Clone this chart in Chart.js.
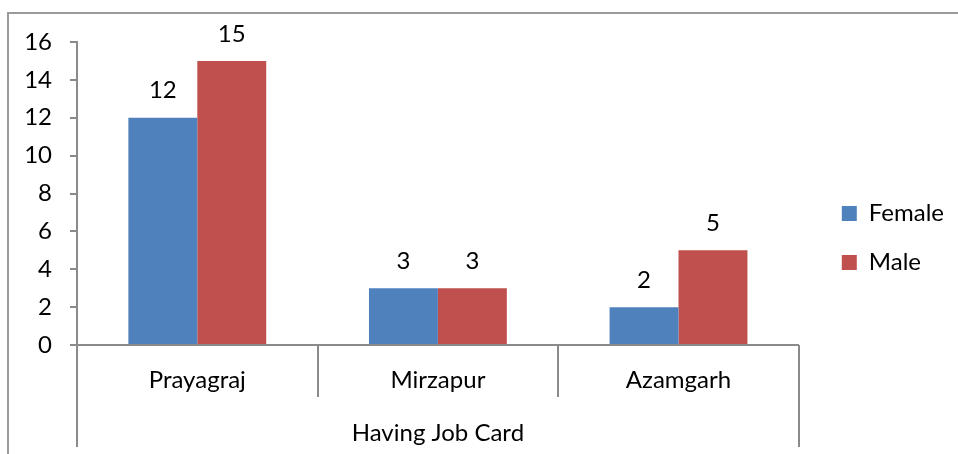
<!DOCTYPE html>
<html>
<head>
<meta charset="utf-8">
<script src="https://cdn.jsdelivr.net/npm/chart.js@4.4.0/dist/chart.umd.min.js"></script>
<style>
  body { margin: 0; background: #fff; }
  #wrap { position: relative; width: 958px; height: 454px; }
  #frame { position: absolute; left: 7px; top: 12px; right: -4px; bottom: -4px;
           border-left: 2px solid #9a9a9a; border-top: 2px solid #9a9a9a; }
  canvas { position: absolute; left: 0; top: 0; }
</style>
</head>
<body>
<div id="wrap">
  <div id="frame"></div>
  <canvas id="myBarChart" width="958" height="454"></canvas>
</div>
<script>
var districts = ['Prayagraj', 'Mirzapur', 'Azamgarh'];
var femaleValues = [12, 3, 2];
var maleValues = [15, 3, 5];
var groupLabel = 'Having Job Card';
var seriesNames = ['Female', 'Male'];

var FONT = 'Lato';
var FSIZE = 24;
var axisGrey = '#8a8a8a';

// value labels above each bar
var barLabels = {
    id: 'barLabels',
    afterDatasetsDraw: function(chart) {
        var ctx = chart.ctx;
        ctx.save();
        ctx.font = FSIZE + 'px ' + FONT;
        ctx.fillStyle = '#000';
        ctx.textAlign = 'center';
        ctx.textBaseline = 'middle';
        chart.data.datasets.forEach(function(ds, di) {
            chart.getDatasetMeta(di).data.forEach(function(bar, i) {
                ctx.fillText(String(ds.data[i]), bar.x, bar.y - 27);
            });
        });
        ctx.restore();
    }
};

// category separators below the x axis (excel style multi-level axis)
var groupLines = {
    id: 'groupLines',
    afterDraw: function(chart) {
        var xs = chart.scales.x;
        var n = xs.ticks.length;
        var ctx = chart.ctx;
        ctx.save();
        ctx.strokeStyle = axisGrey;
        ctx.lineWidth = 2;
        for (var i = 0; i <= n; i++) {
            var x, bottom;
            if (i === 0) { x = xs.left; bottom = chart.height - 7; }
            else if (i === n) { x = xs.right; bottom = chart.height - 7; }
            else {
                x = (xs.getPixelForTick(i - 1) + xs.getPixelForTick(i)) / 2;
                bottom = xs.top + 52;
            }
            ctx.beginPath();
            ctx.moveTo(Math.round(x), xs.top);
            ctx.lineTo(Math.round(x), bottom);
            ctx.stroke();
        }
        ctx.restore();
    }
};

// nudge the legend to where excel puts it
var legendNudge = {
    id: 'legendNudge',
    afterLayout: function(chart) {
        var l = chart.legend;
        l.left += 18; l.right += 18;
        l.top -= 10; l.bottom -= 10;
    }
};

var ctx = document.getElementById('myBarChart').getContext('2d');
var myBarChart = new Chart(ctx, {
    type: 'bar',
    data: {
        labels: districts,
        datasets: [{
            label: seriesNames[0],
            data: femaleValues,
            backgroundColor: '#4F81BD'
        }, {
            label: seriesNames[1],
            data: maleValues,
            backgroundColor: '#C0504D'
        }]
    },
    options: {
        responsive: false,
        animation: false,
        devicePixelRatio: 1,
        categoryPercentage: 0.573,
        barPercentage: 1,
        layout: { padding: { top: 42, left: 0, right: 22, bottom: 0 } },
        plugins: {
            tooltip: { enabled: false },
            legend: {
                position: 'right',
                labels: {
                    boxWidth: 15,
                    boxHeight: 15,
                    padding: 25,
                    color: '#000',
                    font: { family: FONT, size: FSIZE }
                }
            }
        },
        scales: {
            x: {
                grid: { display: false, drawTicks: false },
                border: { display: true, color: axisGrey, width: 2 },
                ticks: { color: '#000', padding: 21, font: { family: FONT, size: FSIZE } },
                title: {
                    display: true,
                    text: groupLabel,
                    color: '#000',
                    font: { family: FONT, size: FSIZE },
                    padding: { top: 0, bottom: 6 }
                },
                afterFit: function(scale) { scale.height = 109; }
            },
            y: {
                min: 0,
                max: 16,
                ticks: { stepSize: 2, color: '#000', padding: 18, font: { family: FONT, size: FSIZE } },
                grid: { drawOnChartArea: false, drawTicks: true, tickLength: 7, color: axisGrey, lineWidth: 2 },
                border: { display: true, color: axisGrey, width: 2 },
                afterFit: function(scale) { scale.width = 77; }
            }
        }
    },
    plugins: [barLabels, groupLines, legendNudge]
});
</script>
</body>
</html>
